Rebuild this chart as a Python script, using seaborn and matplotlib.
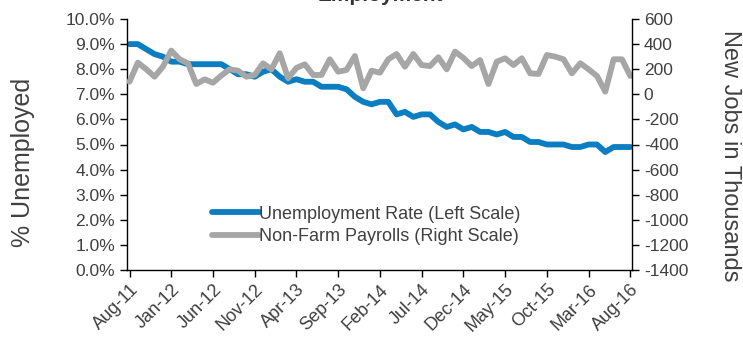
import matplotlib
matplotlib.use("Agg")
import matplotlib.pyplot as plt
import seaborn as sns
import numpy as np
import pandas as pd

months = pd.date_range("2011-08-01", "2016-08-01", freq="MS")
month_labels = [d.strftime("%b-%y") for d in months]

unemployment = [9.0, 9.0, 8.8, 8.6, 8.5,
                8.3, 8.3, 8.2, 8.2, 8.2, 8.2, 8.2, 8.0, 7.8, 7.8, 7.7, 7.9,
                8.0, 7.7, 7.5, 7.6, 7.5, 7.5, 7.3, 7.3, 7.3, 7.2, 6.9, 6.7,
                6.6, 6.7, 6.7, 6.2, 6.3, 6.1, 6.2, 6.2, 5.9, 5.7, 5.8, 5.6,
                5.7, 5.5, 5.5, 5.4, 5.5, 5.3, 5.3, 5.1, 5.1, 5.0, 5.0, 5.0,
                4.9, 4.9, 5.0, 5.0, 4.7, 4.9, 4.9, 4.9]

payrolls = [100, 252, 200, 140, 220,
            348, 279, 247, 82, 119, 92, 150, 199, 188, 140, 154, 247,
            199, 327, 128, 210, 239, 154, 154, 279, 180, 194, 305, 48,
            188, 172, 279, 321, 220, 321, 233, 225, 295, 199, 340, 290,
            225, 273, 82, 260, 287, 233, 287, 167, 162, 313, 300, 279,
            167, 247, 199, 146, 21, 279, 279, 146]

tick_idx = list(range(0, 61, 5))
tick_labels = [month_labels[i] for i in tick_idx]

left_ticks = np.arange(0, 10.01, 1.0)
right_ticks = np.arange(-1400, 601, 200)

sns.set_theme(style="white")
plt.rcParams['font.family'] = ['Liberation Sans', 'DejaVu Sans']
plt.rcParams['axes.unicode_minus'] = False

BLUE = "#0B7DC1"
GRAY = "#A6A6A6"
TXT = "#404040"

fig = plt.figure(figsize=(7.43, 3.39), dpi=100)
ax = fig.add_axes([127/743, 1-270/339, (632-127)/743, (270-19)/339])

df = pd.DataFrame({"idx": np.arange(len(months)), "u": unemployment, "p": payrolls})

sns.lineplot(data=df, x="idx", y="u", ax=ax, color=BLUE, linewidth=4.2,
             label="Unemployment Rate (Left Scale)", legend=False,
             solid_capstyle="round", solid_joinstyle="round")
ax2 = ax.twinx()
sns.lineplot(data=df, x="idx", y="p", ax=ax2, color=GRAY, linewidth=4.2,
             label="Non-Farm Payrolls (Right Scale)", legend=False,
             solid_capstyle="round", solid_joinstyle="round")

ax.set_xlim(-0.3, 60.2)
ax.set_ylim(0, 10)
ax2.set_ylim(-1400, 600)

ax.set_yticks(left_ticks)
ax.set_yticklabels([f"{v:.1f}%" for v in left_ticks])
ax2.set_yticks(right_ticks)
ax2.set_yticklabels([f"{int(v)}" for v in right_ticks])
ax.set_xticks(tick_idx)
ax.set_xticklabels(tick_labels, rotation=45, ha="right", rotation_mode="anchor")

for a in (ax, ax2):
    for s in a.spines.values():
        s.set_color("black")
        s.set_linewidth(1.0)
    a.spines["top"].set_visible(False)
    a.tick_params(colors="black", labelcolor=TXT, labelsize=12.5, length=5, width=1, direction="out")
ax.spines["right"].set_visible(False)
ax2.spines["left"].set_visible(False)
ax2.spines["bottom"].set_visible(False)
ax.tick_params(axis="x", pad=3, labelsize=13)
ax.tick_params(left=True, bottom=True)
ax2.tick_params(right=True)

ax.set_xlabel("")
ax.set_ylabel("% Unemployed", fontsize=18, color=TXT, va="center")
ax.yaxis.set_label_coords(-0.205, 0.43)
ax2.set_ylabel("New Jobs in Thousands", fontsize=17, color=TXT, rotation=270, va="center")
ax2.yaxis.set_label_coords(1.195, 0.455)

h1, l1 = ax.get_legend_handles_labels()
h2, l2 = ax2.get_legend_handles_labels()
leg = ax2.legend(h1 + h2, l1 + l2, loc="upper left", bbox_to_anchor=(0.155, 0.285),
                 frameon=False, fontsize=13, handlelength=2.6, handletextpad=0.0,
                 labelspacing=0.3, borderaxespad=0)
for t in leg.get_texts():
    t.set_color(TXT)

fig.text(0.512, 1.042, "Employment", ha="center", va="top", fontsize=15,
         fontweight="bold", color="#333333")

fig.savefig("out.png", dpi=100)
